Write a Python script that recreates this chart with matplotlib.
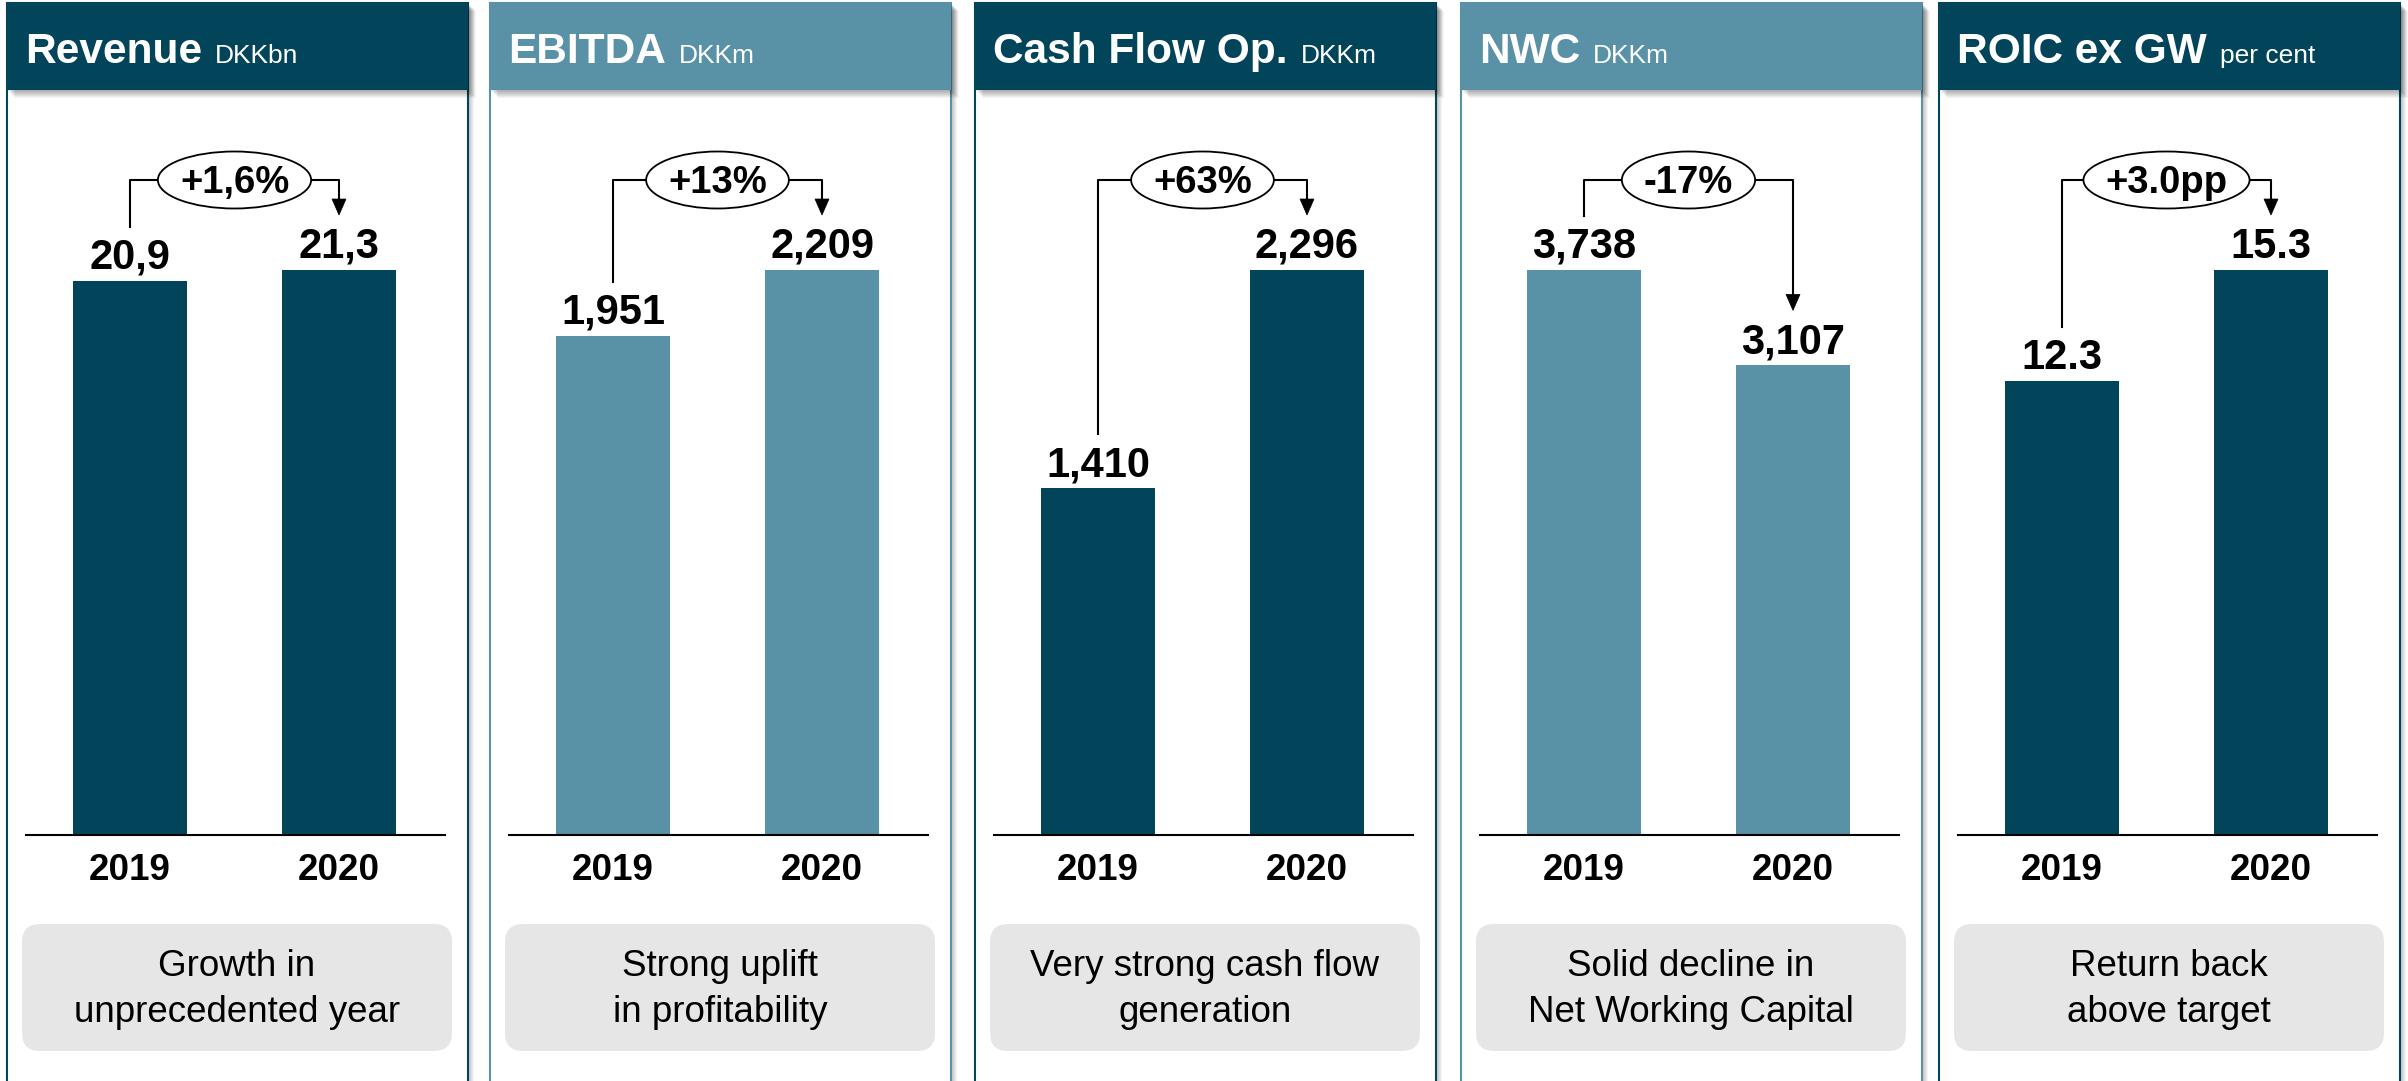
import matplotlib
matplotlib.use('Agg')
import matplotlib.pyplot as plt
from matplotlib.patches import Rectangle, FancyBboxPatch, Ellipse, Polygon

plt.rcParams['font.family'] = ['Liberation Sans', 'DejaVu Sans']

titles = ["Revenue", "EBITDA", "Cash Flow Op.", "NWC", "ROIC ex GW"]
units = ["DKKbn", "DKKm", "DKKm", "DKKm", "per cent"]
years = ["2019", "2020"]
values_2019 = [20.9, 1951, 1410, 3738, 12.3]
values_2020 = [21.3, 2209, 2296, 3107, 15.3]
labels_2019 = ["20,9", "1,951", "1,410", "3,738", "12.3"]
labels_2020 = ["21,3", "2,209", "2,296", "3,107", "15.3"]
changes = ["+1,6%", "+13%", "+63%", "-17%", "+3.0pp"]
captions = ["Growth in\nunprecedented year",
            "Strong uplift\nin profitability",
            "Very strong cash flow\ngeneration",
            "Solid decline in\nNet Working Capital",
            "Return back\nabove target"]

DARK = '#02455b'
LIGHT = '#5991a6'
panel_colors = [DARK, LIGHT, DARK, LIGHT, DARK]

W, H = 2408, 1081
fig = plt.figure(figsize=(W / 100, H / 100), dpi=100)
renderer = fig.canvas.get_renderer()

bg = fig.add_axes([0, 0, 1, 1], zorder=0)
bg.set_xlim(0, W)
bg.set_ylim(H, 0)
bg.axis('off')

fg = fig.add_axes([0, 0, 1, 1], zorder=5)
fg.set_xlim(0, W)
fg.set_ylim(H, 0)
fg.axis('off')
fg.patch.set_alpha(0)

panel_left = [7, 490, 975, 1461, 1939]
panel_w = 461
head_h = 87
base_y = 835      # pixel row of the bar baseline
ax_top = 200      # pixel row of the top of the bar axes
max_bar = 565     # pixel height of the tallest bar in every panel


def to_px(ax, x, y):
    dx, dy = ax.transData.transform((x, y))
    return dx, H - dy


for i in range(5):
    x0 = panel_left[i]
    c = panel_colors[i]

    # panel body with soft shadow
    for k in range(1, 7):
        bg.add_patch(Rectangle((x0 + k, 3 + k), panel_w, H, fc='black', alpha=0.045, lw=0))
    bg.add_patch(Rectangle((x0, 3), panel_w, H + 10, fc='white', ec=c, lw=1.5))
    for k in range(1, 9):
        bg.add_patch(Rectangle((x0 + k, 3 + k), panel_w, head_h, fc='black', alpha=0.045, lw=0))
    bg.add_patch(Rectangle((x0, 3), panel_w, head_h, fc=c, lw=0))

    # header text
    t = bg.text(x0 + 18, 63, titles[i], fontsize=30.5, fontweight='bold', color='white', va='baseline')
    tw = t.get_window_extent(renderer).width
    bg.text(x0 + 18 + tw + 13, 63, units[i], fontsize=19, color='white', va='baseline')

    # bars
    ax = fig.add_axes([(x0 + 19) / W, (H - base_y) / H, 419 / W, (base_y - ax_top) / H], zorder=2)
    ax.patch.set_alpha(0)
    vals = [values_2019[i], values_2020[i]]
    ax.bar([0, 1], vals, width=0.55, color=c)
    ax.set_xlim(-104 / 209, 315 / 209)
    ax.set_ylim(0, max(vals) * (base_y - ax_top) / max_bar)
    for s in ['top', 'left', 'right']:
        ax.spines[s].set_visible(False)
    ax.spines['bottom'].set_linewidth(1.5)
    ax.set_xticks([])
    ax.set_yticks([])

    tops = []
    for j, (v, lab) in enumerate(zip(vals, [labels_2019[i], labels_2020[i]])):
        cx, top = to_px(ax, j, v)
        tops.append((cx, top))
        fg.text(cx, top - 12, lab, fontsize=30, fontweight='bold', ha='center', va='baseline')
        fg.text(cx, 880, years[j], fontsize=26.5, fontweight='bold', ha='center', va='baseline')

    # change bracket
    (cx0, top0), (cx1, top1) = tops
    ecx = (cx0 + cx1) / 2
    ey = 180
    et = fg.text(ecx, 193, changes[i], fontsize=27.5, fontweight='bold', ha='center', va='baseline', zorder=4)
    ew = et.get_window_extent(renderer).width + 44
    fg.add_patch(Ellipse((ecx, ey), ew, 57, fc='white', ec='black', lw=1.3, zorder=3))
    fg.plot([cx0, cx0, ecx - ew / 2], [top0 - 54, ey, ey], color='black', lw=1.5, zorder=2)
    tip = top1 - 55
    fg.plot([ecx + ew / 2, cx1, cx1], [ey, ey, tip - 14], color='black', lw=1.5, zorder=2)
    fg.add_patch(Polygon([(cx1 - 7, tip - 16), (cx1 + 7, tip - 16), (cx1, tip)],
                         closed=True, fc='black', ec='black', lw=0.5, zorder=2))

    # caption box
    r = 18
    fg.add_patch(FancyBboxPatch((x0 + 15 + r, 924 + r), 430 - 2 * r, 127 - 2 * r,
                                boxstyle='round,pad=%d' % r, fc='#e6e6e6', ec='none', zorder=1))
    line1, line2 = captions[i].split('\n')
    fg.text(x0 + 230, 976, line1, fontsize=26.5, ha='center', va='baseline')
    fg.text(x0 + 230, 1022, line2, fontsize=26.5, ha='center', va='baseline')

fig.savefig('out.png', dpi=100)
